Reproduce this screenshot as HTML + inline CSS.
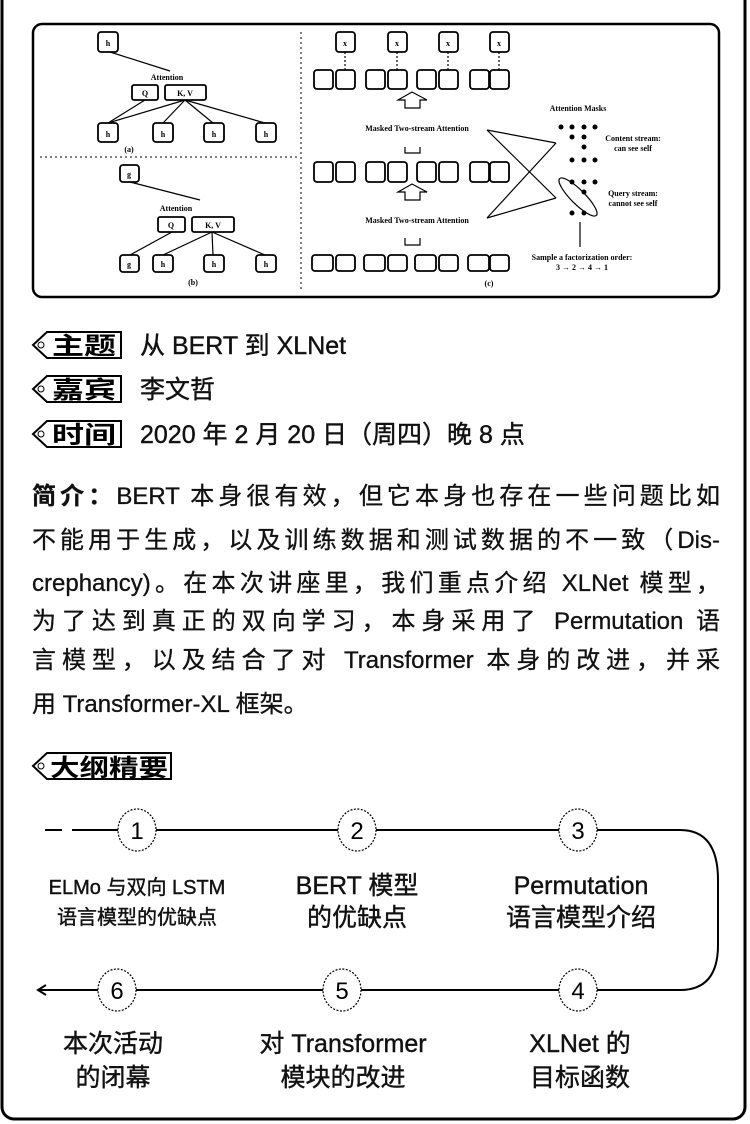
<!DOCTYPE html>
<html><head><meta charset="utf-8"><style>
html,body{margin:0;padding:0;background:#fff;}
body{width:750px;height:1124px;overflow:hidden;position:relative;font-family:"Liberation Sans","Noto Sans CJK SC",sans-serif;color:#111;}
svg{position:absolute;left:0;top:0;}
.l{position:absolute;left:32px;width:688px;font-size:24px;line-height:30px;text-align:justify;text-align-last:justify;white-space:nowrap;-webkit-text-stroke:0.3px #111;}
.l.e{text-align-last:left;}
.bt{stroke:#111;stroke-width:0.4px;}
</style></head><body>
<svg width="750" height="1124" viewBox="0 0 750 1124">
<rect x="2" y="-20" width="743" height="1139" rx="12" fill="none" stroke="#000" stroke-width="3"/>
<rect x="33" y="24" width="686" height="273" rx="9" fill="none" stroke="#000" stroke-width="2.5"/>
<line x1="301" y1="32" x2="301" y2="290" stroke="#000" stroke-dasharray="2,3"/>
<line x1="40" y1="157" x2="298" y2="157" stroke="#000" stroke-dasharray="2,3"/>
<g fill="none" stroke="#000" stroke-width="1.2">
<line x1="110" y1="52" x2="170" y2="71"/>
<line x1="108" y1="123" x2="145" y2="100"/><line x1="108" y1="123" x2="185" y2="100"/><line x1="163" y1="123" x2="185" y2="100"/><line x1="213" y1="123" x2="185" y2="100"/><line x1="265" y1="123" x2="185" y2="100"/>
<line x1="130" y1="182" x2="200" y2="200"/>
<line x1="130" y1="255" x2="172" y2="232"/><line x1="163" y1="255" x2="212" y2="232"/><line x1="213" y1="255" x2="212" y2="232"/><line x1="265" y1="255" x2="212" y2="232"/>
<line x1="345" y1="52" x2="345" y2="70" stroke-dasharray="2,2"/><line x1="397" y1="52" x2="397" y2="70" stroke-dasharray="2,2"/><line x1="448" y1="52" x2="448" y2="70" stroke-dasharray="2,2"/><line x1="499" y1="52" x2="499" y2="70" stroke-dasharray="2,2"/>
<path d="M405,108 V100 H398 L412,92 L427,100 H420 V108 Z"/>
<path d="M405,200 V192 H398 L412,184 L427,192 H420 V200 Z"/>
<path d="M405,147 V153 H420 V147 M405,238 V245 H420 V238"/>
<line x1="487" y1="130" x2="556" y2="143"/><line x1="487" y1="130" x2="556" y2="198"/><line x1="556" y1="143" x2="487" y2="218"/><line x1="487" y1="218" x2="556" y2="198"/>
<ellipse cx="578" cy="197" rx="26" ry="7" transform="rotate(45 578 197)"/>
<line x1="580" y1="222" x2="580" y2="247"/>
</g>
<g fill="#fff" stroke="#000" stroke-width="1.8">
<rect x="98" y="32" width="20" height="20" rx="3"/>
<rect x="132" y="85" width="26" height="15" rx="2"/><rect x="165" y="85" width="41" height="15" rx="2"/>
<rect x="98" y="123" width="20" height="19" rx="3"/><rect x="153" y="123" width="20" height="19" rx="3"/><rect x="204" y="123" width="20" height="19" rx="3"/><rect x="256" y="123" width="20" height="19" rx="3"/>
<rect x="120" y="165" width="19" height="17" rx="3"/>
<rect x="158" y="217" width="27" height="15" rx="2"/><rect x="192" y="217" width="42" height="15" rx="2"/>
<rect x="120" y="255" width="19" height="17" rx="3"/><rect x="153" y="255" width="20" height="17" rx="3"/><rect x="204" y="255" width="20" height="17" rx="3"/><rect x="256" y="255" width="20" height="17" rx="3"/>
<rect x="336" y="32" width="19" height="20" rx="3"/><rect x="388" y="32" width="19" height="20" rx="3"/><rect x="439" y="32" width="19" height="20" rx="3"/><rect x="490" y="32" width="19" height="20" rx="3"/>
<rect x="314" y="70" width="19" height="19" rx="3"/><rect x="336" y="70" width="19" height="19" rx="3"/>
<rect x="366" y="70" width="19" height="19" rx="3"/><rect x="388" y="70" width="19" height="19" rx="3"/>
<rect x="417" y="70" width="19" height="19" rx="3"/><rect x="439" y="70" width="19" height="19" rx="3"/>
<rect x="470" y="70" width="19" height="19" rx="3"/><rect x="490" y="70" width="19" height="19" rx="3"/>
<rect x="314" y="162" width="19" height="20" rx="3"/><rect x="336" y="162" width="19" height="20" rx="3"/>
<rect x="366" y="162" width="19" height="20" rx="3"/><rect x="388" y="162" width="19" height="20" rx="3"/>
<rect x="417" y="162" width="19" height="20" rx="3"/><rect x="439" y="162" width="19" height="20" rx="3"/>
<rect x="470" y="162" width="19" height="20" rx="3"/><rect x="490" y="162" width="19" height="20" rx="3"/>
<rect x="312" y="255" width="21" height="16" rx="3"/><rect x="336" y="255" width="19" height="16" rx="3"/>
<rect x="364" y="255" width="21" height="16" rx="3"/><rect x="388" y="255" width="19" height="16" rx="3"/>
<rect x="415" y="255" width="21" height="16" rx="3"/><rect x="439" y="255" width="19" height="16" rx="3"/>
<rect x="468" y="255" width="21" height="16" rx="3"/><rect x="490" y="255" width="19" height="16" rx="3"/>
</g>
<g fill="#000">
<circle cx="561" cy="127" r="2.5"/><circle cx="572" cy="127" r="2.5"/><circle cx="584" cy="127" r="2.5"/><circle cx="595" cy="127" r="2.5"/>
<circle cx="572" cy="137" r="2.5"/><circle cx="584" cy="137" r="2.5"/><circle cx="584" cy="147" r="2.5"/>
<circle cx="572" cy="160" r="2.5"/><circle cx="584" cy="160" r="2.5"/><circle cx="595" cy="160" r="2.5"/>
<circle cx="572" cy="182" r="2.5"/><circle cx="584" cy="182" r="2.5"/><circle cx="595" cy="182" r="2.5"/>
<circle cx="584" cy="192" r="2.5"/><circle cx="572" cy="213" r="2.5"/><circle cx="584" cy="213" r="2.5"/>
</g>
<g font-family="Liberation Serif, serif" font-size="8" font-weight="bold" text-anchor="middle" fill="#000">
<text x="108" y="46">h</text><text x="108" y="137">h</text><text x="163" y="137">h</text><text x="214" y="137">h</text><text x="266" y="137">h</text>
<text x="129" y="177">g</text><text x="129" y="267">g</text><text x="163" y="267">h</text><text x="214" y="267">h</text><text x="266" y="267">h</text>
<text x="167" y="80">Attention</text><text x="145" y="96">Q</text><text x="185" y="96">K, V</text><text x="129" y="152">(a)</text>
<text x="176" y="211">Attention</text><text x="171" y="228">Q</text><text x="213" y="228">K, V</text><text x="193" y="285">(b)</text>
<text x="345" y="46">x</text><text x="397" y="46">x</text><text x="448" y="46">x</text><text x="499" y="46">x</text>
<text x="417" y="131">Masked Two-stream Attention</text>
<text x="417" y="223">Masked Two-stream Attention</text>
<text x="578" y="111">Attention Masks</text>
<text x="633" y="141">Content stream:</text><text x="633" y="151">can see self</text>
<text x="633" y="196">Query stream:</text><text x="633" y="206">cannot see self</text>
<text x="582" y="260">Sample a factorization order:</text><text x="582" y="270">3 → 2 → 4 → 1</text>
<text x="489" y="286">(c)</text>
</g>
<g fill="#fff" stroke="#000" stroke-width="2">
<path d="M33,345 L47,332 H121 V358 H47 Z"/>
<path d="M33,389 L47,376 H121 V402 H47 Z"/>
<path d="M33,434 L47,421 H121 V447 H47 Z"/>
<path d="M33,766 L47,753 H171 V779 H47 Z"/>
</g>
<g fill="none" stroke="#000" stroke-width="1"><circle cx="41" cy="345" r="3"/><circle cx="41" cy="389" r="3"/><circle cx="41" cy="434" r="3"/><circle cx="41" cy="766" r="3"/></g>
<g font-size="24" font-weight="bold" fill="#000" lengthAdjust="spacingAndGlyphs">
<text x="52" y="354" textLength="64" lengthAdjust="spacingAndGlyphs">主题</text><text x="52" y="398" textLength="64" lengthAdjust="spacingAndGlyphs">嘉宾</text><text x="52" y="443" textLength="64" lengthAdjust="spacingAndGlyphs">时间</text><text x="50" y="776" textLength="118" lengthAdjust="spacingAndGlyphs">大纲精要</text>
</g>
<g font-size="25" fill="#111" class="bt">
<text x="140" y="354">从 BERT 到 XLNet</text>
<text x="140" y="398">李文哲</text>
<text x="140" y="443">2020 年 2 月 20 日（周四）晚 8 点</text>
</g>
<g fill="none" stroke="#000" stroke-width="2">
<line x1="45" y1="830" x2="62" y2="830"/><line x1="72" y1="830" x2="118" y2="830"/>
<line x1="156" y1="830" x2="338" y2="830"/><line x1="376" y1="830" x2="559" y2="830"/>
<path d="M597,830 H680 Q718,830 718,880 V945 Q718,990 680,990 H597"/>
<line x1="559" y1="990" x2="361" y2="990"/><line x1="323" y1="990" x2="136" y2="990"/><line x1="98" y1="990" x2="40" y2="990"/>
<path d="M46,985 L38,990 L46,995"/>
</g>
<g fill="#fff" stroke="#000" stroke-width="1.2" stroke-dasharray="2,1.5">
<ellipse cx="137" cy="830" rx="19" ry="21"/><ellipse cx="357" cy="830" rx="19" ry="21"/><ellipse cx="578" cy="830" rx="19" ry="21"/>
<ellipse cx="578" cy="990" rx="19" ry="21"/><ellipse cx="342" cy="990" rx="19" ry="21"/><ellipse cx="117" cy="990" rx="19" ry="21"/>
</g>
<g font-size="24" text-anchor="middle" fill="#000">
<text x="137" y="839">1</text><text x="357" y="839">2</text><text x="578" y="839">3</text>
<text x="578" y="999">4</text><text x="342" y="999">5</text><text x="117" y="999">6</text>
</g>
<g text-anchor="middle" fill="#111" class="bt">
<text x="137" y="894" font-size="20">ELMo 与双向 LSTM</text><text x="137" y="924" font-size="20">语言模型的优缺点</text>
<text x="357" y="894" font-size="25">BERT 模型</text><text x="357" y="926" font-size="25">的优缺点</text>
<text x="581" y="894" font-size="25">Permutation</text><text x="581" y="926" font-size="25">语言模型介绍</text>
<text x="113" y="1052" font-size="25">本次活动</text><text x="113" y="1086" font-size="25">的闭幕</text>
<text x="343" y="1052" font-size="25">对 Transformer</text><text x="343" y="1086" font-size="25">模块的改进</text>
<text x="580" y="1052" font-size="25">XLNet 的</text><text x="580" y="1086" font-size="25">目标函数</text>
</g>
</svg>
<div class="l" style="top:482px"><b>简介：</b>BERT 本身很有效，但它本身也存在一些问题比如</div>
<div class="l" style="top:526px">不能用于生成，以及训练数据和测试数据的不一致（Dis-</div>
<div class="l" style="top:569px">crephancy)。在本次讲座里，我们重点介绍 XLNet 模型，</div>
<div class="l" style="top:607px">为了达到真正的双向学习，本身采用了 Permutation 语</div>
<div class="l" style="top:646px">言模型，以及结合了对 Transformer 本身的改进，并采</div>
<div class="l e" style="top:690px">用 Transformer-XL 框架。</div>
</body></html>
